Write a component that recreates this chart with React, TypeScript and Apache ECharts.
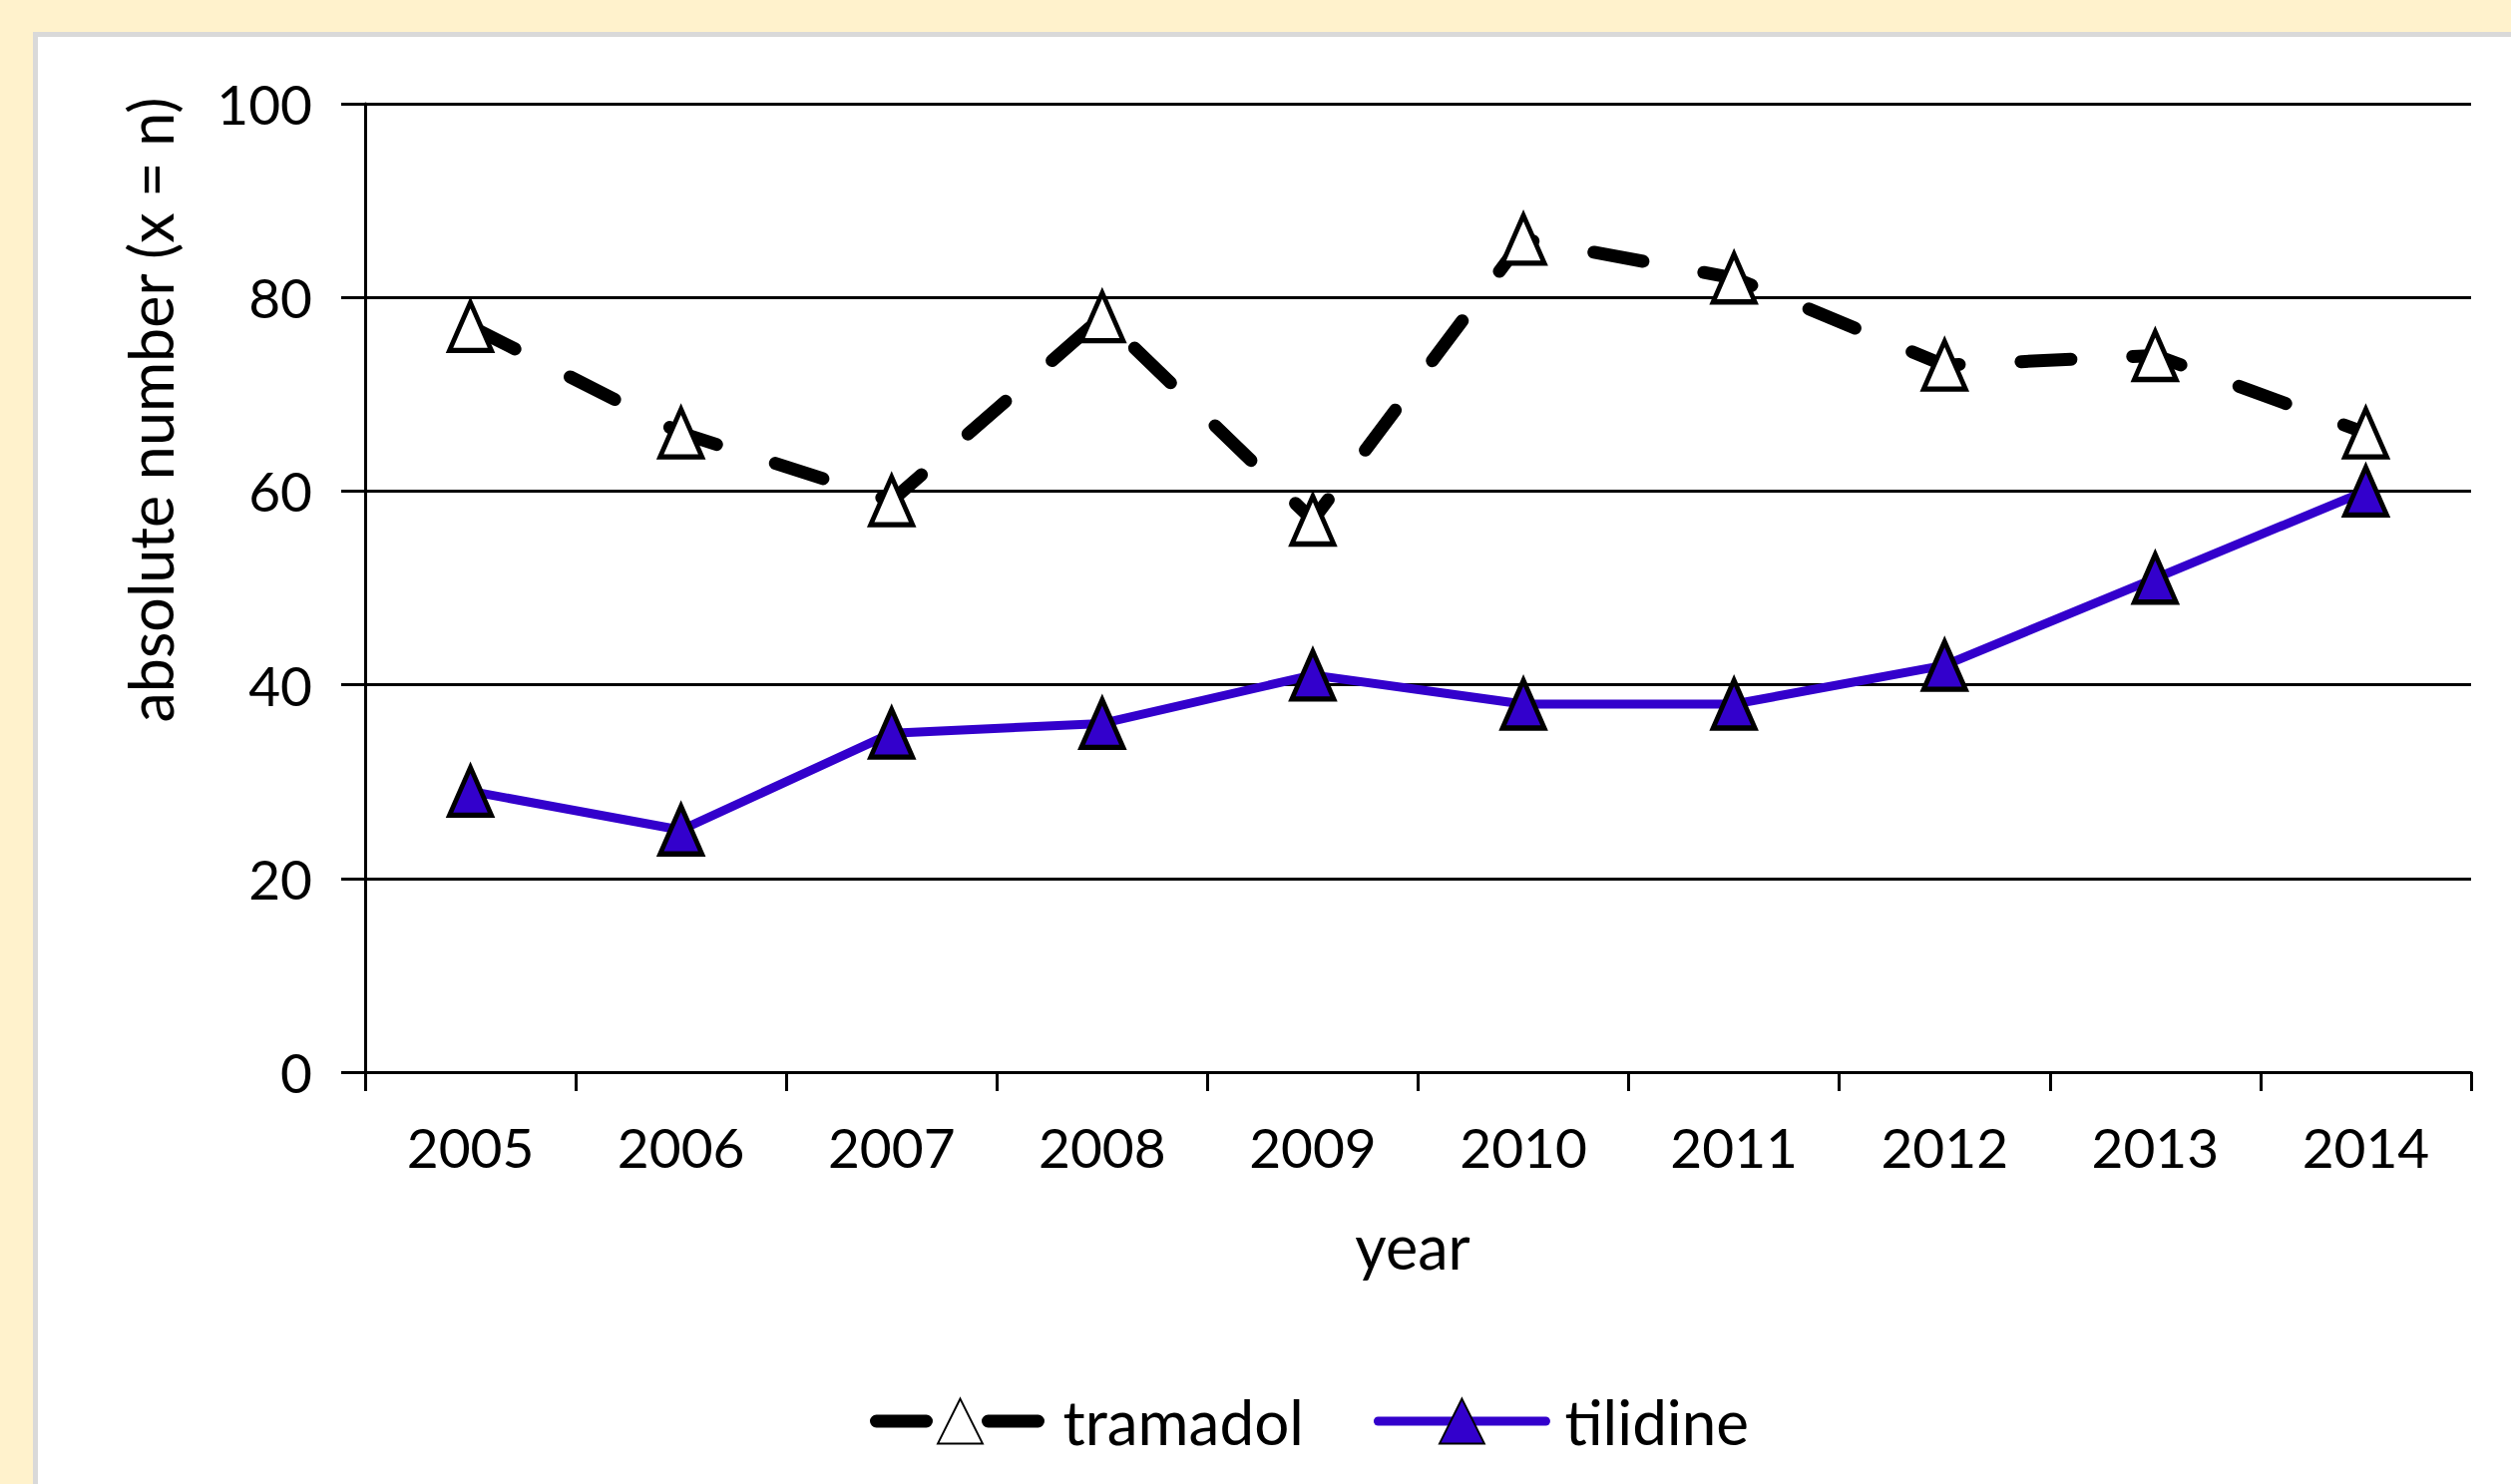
import React, { useEffect, useRef } from "react";
import * as echarts from "echarts";

const years = ["2005", "2006", "2007", "2008", "2009", "2010", "2011", "2012", "2013", "2014"];
const tramadol = [77, 66, 59, 78, 57, 86, 82, 73, 74, 66];
const tilidine = [29, 25, 35, 36, 41, 38, 38, 42, 51, 60];
const seriesNames = ["tramadol", "tilidine"];
const yAxisTitle = "absolute number (x = n)";
const xAxisTitle = "year";

const FONT = "Lato";
const DASH = [50, 62];

export default function App() {
  const ref = useRef<HTMLDivElement>(null);
  useEffect(() => {
    if (!ref.current) return;
    const chart = echarts.init(ref.current, undefined, { renderer: "svg" });
    chart.setOption({
      animation: false,
      backgroundColor: "#FFF2CC",
      textStyle: { fontFamily: FONT },
      graphic: [
        { type: "rect", z: -10, shape: { x: 33, y: 32, width: 2600, height: 1600 }, style: { fill: "#D9D9D9" } },
        { type: "rect", z: -9, shape: { x: 38, y: 37, width: 2600, height: 1600 }, style: { fill: "#FFFFFF" } },
        {
          type: "text",
          x: 150,
          y: 411,
          rotation: Math.PI / 2,
          style: { text: yAxisTitle, fontSize: 61, fontFamily: FONT, fill: "#000", align: "center", verticalAlign: "middle" },
        },
        {
          type: "text",
          x: 1416,
          y: 1249,
          style: { text: xAxisTitle, fontSize: 61, fontFamily: FONT, fill: "#000", align: "center", verticalAlign: "middle" },
        },
      ],
      grid: { left: 366, top: 104, right: 40, bottom: 413, containLabel: false },
      legend: {
        left: 867,
        top: 1420 - 31,
        itemWidth: 168,
        itemHeight: 56,
        itemGap: 70,
        data: [
          { name: seriesNames[0], lineStyle: { width: 13, type: DASH, cap: "round", color: "#000" } },
          { name: seriesNames[1], lineStyle: { width: 9, color: "#3300CC", cap: "round" } },
        ],
        textStyle: { fontSize: 62, lineHeight: 62, fontFamily: FONT, color: "#000", padding: [0, 0, 0, 14] },
      },
      xAxis: {
        type: "category",
        data: years,
        boundaryGap: true,
        axisLine: { lineStyle: { color: "#000", width: 3 } },
        axisTick: { show: true, length: 19, lineStyle: { color: "#000", width: 3 } },
        axisLabel: { fontSize: 55, color: "#000", margin: 47, fontFamily: FONT },
        splitLine: { show: false },
      },
      yAxis: {
        type: "value",
        min: 0,
        max: 100,
        interval: 20,
        axisLine: { show: true, lineStyle: { color: "#000", width: 3 } },
        axisTick: { show: true, length: 24, lineStyle: { color: "#000", width: 3 } },
        axisLabel: { fontSize: 55, color: "#000", margin: 53, fontFamily: FONT },
        splitLine: { show: true, lineStyle: { color: "#000", width: 3 } },
      },
      series: [
        {
          name: seriesNames[1],
          type: "line",
          data: tilidine,
          symbol: "triangle",
          symbolSize: [42, 48],
          z: 2,
          lineStyle: { color: "#3300CC", width: 9 },
          itemStyle: { color: "#3300CC", borderColor: "#000", borderWidth: 5 },
        },
        {
          name: seriesNames[0],
          type: "line",
          data: tramadol,
          symbol: "triangle",
          symbolSize: [42, 48],
          z: 3,
          lineStyle: { color: "#000", width: 13, type: DASH, cap: "round" },
          itemStyle: { color: "#FFFFFF", borderColor: "#000", borderWidth: 5 },
        },
      ],
    });
    return () => chart.dispose();
  }, []);
  return <div ref={ref} style={{ position: "fixed", left: 0, top: 0, width: 2517, height: 1488 }} />;
}
